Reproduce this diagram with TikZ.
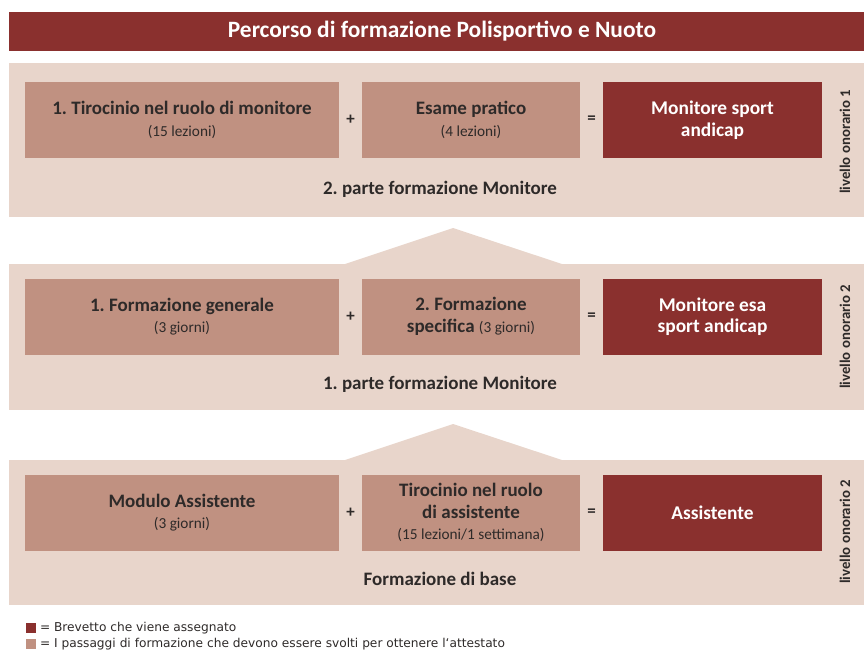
\documentclass[tikz,border=0pt]{standalone}
\usepackage{fontspec}
\setmainfont{Carlito}
\newfontfamily\legendafont{DejaVu Sans}
\usetikzlibrary{positioning,calc}
\definecolor{brevetto}{HTML}{8A302E}
\definecolor{passo}{HTML}{C09181}
\definecolor{fondo}{HTML}{E8D5CB}
\definecolor{testo}{HTML}{2E2A29}
\newcommand\sotto[1]{{\mdseries\fontsize{15.3}{21.5}\selectfont #1}}

\begin{document}
\frenchspacing
\begin{tikzpicture}[x=1pt,y=-1pt,% pixel grid, y downwards
		every node/.style={
			align=center,	% so that "\\" breaks lines
			inner sep=0pt,
			outer sep=0pt
		},
		passo/.style={fill=passo,minimum height=76pt,text=testo,font=\bfseries\fontsize{19}{21.5}\selectfont},
		brev/.style={fill=brevetto,minimum width=219pt,minimum height=76pt,text=white,font=\bfseries\fontsize{19.4}{21.5}\selectfont},
		segno/.style={text=testo,font=\bfseries\fontsize{17}{19}\selectfont},
		parte/.style={text=testo,font=\bfseries\fontsize{19}{22}\selectfont},
		livello/.style={rotate=90,text=testo,font=\bfseries\fontsize{14.8}{17}\selectfont},
		quadro/.style={minimum size=10pt},
		legenda/.style={anchor=west,text=testo,font=\legendafont\fontsize{12.2}{14}\selectfont}
	]
	\useasboundingbox (0,0) rectangle (864,650);
	% title
	\fill[brevetto] (9,12) rectangle (864,51);
	\node[text=white,font=\bfseries\fontsize{23.4}{26}\selectfont] (titolo) at (442,31.5) {Percorso di formazione Polisportivo e Nuoto};
	% panels
	\fill[fondo] (9,63) rectangle (864,217);
	\fill[fondo] (9,264) rectangle (864,410);
	\fill[fondo] (345,264) -- (453,228) -- (562,264) -- cycle;
	\fill[fondo] (9,460) rectangle (864,605);
	\fill[fondo] (345,460) -- (453,424) -- (562,460) -- cycle;
	% livello onorario 1
	\node[passo,minimum width=314pt] (tirocinio) at (182,120) {1. Tirocinio nel ruolo di monitore\\\sotto{(15 lezioni)}};
	\node[passo,minimum width=218pt,right=23pt of tirocinio] (esame) {Esame pratico\\\sotto{(4 lezioni)}};
	\node[brev,right=23pt of esame] (monitore) {Monitore sport\\andicap};
	\node[segno] (piu1) at ($(tirocinio.east)!.5!(esame.west)$) {+};
	\node[segno] (uguale1) at ($(esame.east)!.5!(monitore.west)$) {=};
	\node[parte] (parte2) at (440,189) {2. parte formazione Monitore};
	\node[livello] (liv1) at (845,142) {livello onorario 1};
	% livello onorario 2
	\node[passo,minimum width=314pt] (generale) at (182,316.5) {1. Formazione generale\\\sotto{(3 giorni)}};
	\node[passo,minimum width=218pt,right=23pt of generale] (specifica) {2. Formazione\\specifica \sotto{(3 giorni)}};
	\node[brev,right=23pt of specifica] (monitoreesa) {Monitore esa\\sport andicap};
	\node[segno] (piu2) at ($(generale.east)!.5!(specifica.west)$) {+};
	\node[segno] (uguale2) at ($(specifica.east)!.5!(monitoreesa.west)$) {=};
	\node[parte] (parte1) at (440,384) {1. parte formazione Monitore};
	\node[livello] (liv2) at (845,337) {livello onorario 2};
	% formazione di base
	\node[passo,minimum width=314pt] (modulo) at (182,512.5) {Modulo Assistente\\\sotto{(3 giorni)}};
	\node[passo,minimum width=218pt,right=23pt of modulo] (tirass) {Tirocinio nel ruolo\\di assistente\\\sotto{(15 lezioni/1 settimana)}};
	\node[brev,right=23pt of tirass] (assistente) {Assistente};
	\node[segno] (piu3) at ($(modulo.east)!.5!(tirass.west)$) {+};
	\node[segno] (uguale3) at ($(tirass.east)!.5!(assistente.west)$) {=};
	\node[parte] (base) at (440,579) {Formazione di base};
	\node[livello] (liv3) at (845,532) {livello onorario 2};
	% legend
	\node[quadro,fill=brevetto] (qbrev) at (31,628) {};
	\node[legenda,right=4pt of qbrev] (tbrev) {= Brevetto che viene assegnato};
	\node[quadro,fill=passo] (qpasso) at (31,644) {};
	\node[legenda,right=4pt of qpasso] (tpasso) {= I passaggi di formazione che devono essere svolti per ottenere l‘attestato};
\end{tikzpicture}
\end{document}
